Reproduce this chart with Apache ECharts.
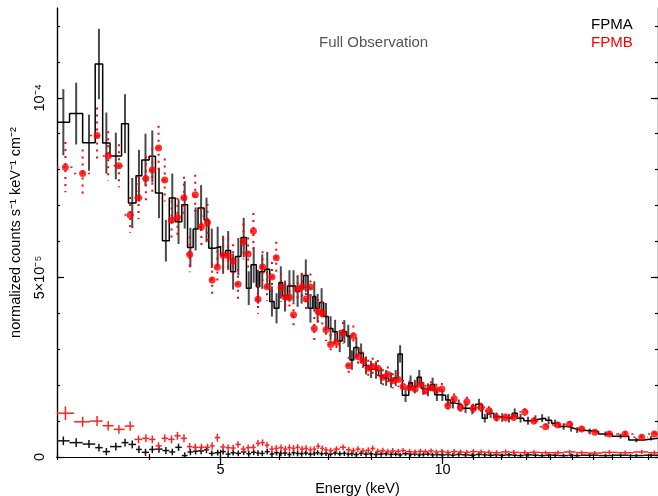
<!DOCTYPE html>
<html>
<head>
<meta charset="utf-8">
<script src="https://cdn.jsdelivr.net/npm/echarts@6/dist/echarts.min.js"></script>
<style>
  html, body { margin: 0; padding: 0; background: #fff; }
  #chart { width: 658px; height: 496px; }
</style>
</head>
<body>
<div id="chart"></div>
<script>
// all fluxes in units of 1e-5 counts s^-1 keV^-1 cm^-2, energies in keV

// FPMA: grouped bins (edges), value, 1-sigma error, background
const fpmaEdges = [3.00,3.12,3.25,3.38,3.46,3.54,3.67,3.75,3.84,3.91,4.00,4.08,4.17,4.26,4.34,4.43,4.51,4.59,4.66,4.75,
  4.82,4.91,5.00,5.08,5.16,5.24,5.33,5.42,5.50,5.59,5.65,5.74,5.83,5.91,6.00,6.07,6.16,6.24,6.32,6.40,
  6.48,6.57,6.67,6.73,6.81,6.90,7.00,7.10,7.20,7.31,7.41,7.49,7.58,7.70,7.81,7.94,8.06,8.19,8.32,8.45,
  8.58,8.70,8.82,9.00,9.10,9.24,9.36,9.48,9.63,9.76,9.89,10.10,10.25,10.41,10.63,10.86,11.09,11.32,11.50,11.74,
  11.92,12.18,12.43,12.63,12.89,13.23,13.50,13.80,14.06,14.37,14.82,15.06,15.39,16.28,16.99,17.89,18.75,19.6];
const fpmaVal = [9.32,9.56,8.75,10.94,8.74,8.38,9.28,7.07,7.83,8.27, 8.37,7.35,6.02,7.21,6.55,7.02,5.83,6.35,6.93,6.60,
  5.81,5.86,5.63,5.75,5.16,5.58,6.11,4.70,5.35,4.74, 5.16,5.23,4.33,4.14,4.86,4.48,4.76,4.76,4.61,4.70,
  5.05,4.14,4.47,4.14,4.30,3.91,3.58,3.49,3.23,3.49, 3.37,2.70,3.05,2.89,2.55,2.44,2.42,2.26,2.20,2.14,
  2.20,2.87,1.72,2.07,1.96,2.22,1.91,1.87,2.02,1.73, 1.72,1.59,1.50,1.45,1.36,1.33,1.47,1.08,1.22,1.12,
  1.10,1.08,1.22,1.08,1.01,1.05,1.08,1.02,0.94,0.85, 0.80,0.75,0.71,0.64,0.58,0.47,0.52];
const fpmaErr = [0.92,0.86,0.78,0.98,0.85,0.65,0.82,0.70,0.72,0.73, 0.72,0.70,0.58,0.68,0.62,0.66,0.55,0.60,0.64,0.62,
  0.55,0.55,0.53,0.54,0.50,0.52,0.55,0.47,0.50,0.47, 0.48,0.48,0.42,0.42,0.45,0.43,0.44,0.44,0.43,0.43,
  0.45,0.40,0.42,0.40,0.40,0.38,0.34,0.33,0.31,0.32, 0.31,0.27,0.28,0.27,0.25,0.24,0.24,0.23,0.22,0.21,
  0.22,0.24,0.19,0.20,0.19,0.20,0.18,0.18,0.19,0.17, 0.16,0.16,0.15,0.15,0.14,0.14,0.15,0.12,0.13,0.12,
  0.12,0.12,0.13,0.12,0.11,0.11,0.11,0.11,0.10,0.09, 0.09,0.08,0.08,0.07,0.07,0.06,0.06];
const fpmaBkg = [0.45,0.40,0.36,0.26,0.15,0.29,0.40,0.35,0.21,0.13, 0.21,0.22,0.18,0.14,0.27,0.04,0.14,0.16,0.17,0.20,
  0.10,0.12,0.15,0.08,0.12,0.10,0.14,0.09,0.13,0.11, 0.10,0.15,0.08,0.12,0.10,0.11,0.07,0.12,0.10,0.09,
  0.11,0.08,0.10,0.12,0.09,0.10,0.08,0.11,0.09,0.10, 0.08,0.09,0.07,0.10,0.08,0.09,0.07,0.08,0.09,0.07,
  0.08,0.06,0.09,0.07,0.08,0.06,0.07,0.08,0.06,0.07, 0.06,0.07,0.05,0.07,0.06,0.05,0.07,0.06,0.05,0.06,
  0.05,0.06,0.05,0.04,0.06,0.05,0.04,0.05,0.05,0.04, 0.05,0.04,0.05,0.04,0.05,0.04,0.05];
const fpmaBkgErr = [0.12,0.12,0.11,0.11,0.10,0.11,0.11,0.11,0.10,0.10, 0.10,0.10,0.10,0.09,0.10,0.09,0.09,0.09,0.09,0.09,
  0.08,0.08,0.08,0.08,0.08,0.08,0.08,0.08,0.08,0.08, 0.08,0.08,0.08,0.08,0.08,0.08,0.08,0.08,0.08,0.08,
  0.07,0.07,0.07,0.07,0.07,0.07,0.07,0.07,0.07,0.07, 0.07,0.07,0.07,0.07,0.07,0.07,0.07,0.07,0.07,0.07,
  0.06,0.06,0.06,0.06,0.06,0.06,0.06,0.06,0.06,0.06, 0.06,0.06,0.06,0.06,0.06,0.06,0.06,0.06,0.06,0.06,
  0.05,0.05,0.05,0.05,0.05,0.05,0.05,0.05,0.05,0.05, 0.05,0.05,0.05,0.05,0.05,0.05,0.05];

// FPMB: bin centres, value, error, background
const fpmbE = [3.08,3.25,3.40,3.52,3.64,3.77,3.87,3.96,4.04,4.12, 4.20,4.29,4.37,4.46,4.54,4.62,4.71,4.80,4.87,4.95,
  5.04,5.12,5.20,5.28,5.37,5.45,5.54,5.62,5.70,5.78, 5.87,5.95,6.04,6.12,6.20,6.28,6.36,6.45,6.53,6.62,
  6.70,6.78,6.87,6.95,7.05,7.18,7.33, 7.46,7.57,7.68,7.80,7.93,8.04,8.17,8.30,8.43,8.56,
  8.71,8.84,9.02,9.18,9.33,9.48,9.65,9.81,9.98,10.17, 10.37,10.58,10.79,11.01,11.28,11.56,11.84,12.18,12.49,12.93,
  13.30,13.80,14.34,14.87,15.44,16.09,16.84,17.69,18.63,19.38];
const fpmbVal = [8.07,7.89,8.95,8.38,8.11,6.74,7.22,7.75,7.99,8.60, 7.71,6.59,6.67,7.22,5.64,7.30,6.41,6.53,4.93,5.28,
  5.62,5.61,5.46,4.81,6.00,5.65,6.29,4.39,5.29,4.74, 5.01,5.55,4.72,4.45,4.45,3.96,4.68,4.73,4.40,4.73,
  3.58,4.05,4.00,3.54,3.13,3.19,3.46, 2.54,3.37,2.79,2.68,2.47,2.52,2.47,2.22,2.30,2.12,
  2.16,1.96,1.93,1.89,2.02,1.84,1.93,1.87,1.89,1.43, 1.62,1.38,1.54,1.35,1.38,1.29,1.10,1.10,1.11,1.25,
  1.00,0.84,0.89,0.91,0.78,0.69,0.64,0.64,0.55,0.64];
const fpmbErr = [0.70,0.67,0.78,0.69,0.60,0.50,0.60,0.62,0.62,0.62, 0.60,0.55,0.55,0.58,0.50,0.56,0.52,0.52,0.45,0.47,
  0.48,0.48,0.46,0.43,0.50,0.46,0.50,0.40,0.44,0.40, 0.42,0.44,0.40,0.38,0.38,0.35,0.38,0.38,0.36,0.38,
  0.32,0.34,0.33,0.31,0.29,0.29,0.30, 0.25,0.29,0.26,0.25,0.24,0.24,0.23,0.22,0.22,0.21,
  0.21,0.19,0.19,0.18,0.19,0.17,0.18,0.17,0.17,0.14, 0.15,0.13,0.14,0.13,0.13,0.12,0.11,0.11,0.11,0.11,
  0.10,0.09,0.09,0.09,0.08,0.07,0.07,0.07,0.06,0.07];
const fpmbBkg = [1.22,0.98,1.00,0.87,0.77,0.86,0.49,0.52,0.49,0.31, 0.52,0.49,0.59,0.52,0.29,0.27,0.27,0.27,0.31,0.54,
  0.28,0.26,0.25,0.35,0.22,0.26,0.27,0.38,0.40,0.33, 0.22,0.24,0.26,0.22,0.26,0.24,0.27,0.22,0.24,0.20,
  0.22,0.30,0.24,0.20,0.18,0.22,0.27, 0.20,0.18,0.22,0.17,0.19,0.24,0.16,0.18,0.15,0.17,
  0.16,0.18,0.15,0.14,0.16,0.15,0.17,0.14,0.15,0.13, 0.15,0.14,0.13,0.15,0.14,0.13,0.12,0.14,0.13,0.12,
  0.13,0.12,0.12,0.14,0.12,0.11,0.13,0.12,0.14,0.12];
const fpmbBkgErr = [0.19,0.14,0.14,0.13,0.12,0.13,0.11,0.11,0.11,0.10, 0.11,0.11,0.11,0.11,0.10,0.10,0.10,0.10,0.10,0.11,
  0.09,0.09,0.09,0.09,0.09,0.09,0.09,0.09,0.09,0.09, 0.09,0.09,0.09,0.09,0.09,0.09,0.09,0.09,0.09,0.09,
  0.08,0.08,0.08,0.08,0.08,0.08,0.08, 0.08,0.08,0.08,0.08,0.08,0.08,0.08,0.08,0.08,0.08,
  0.07,0.07,0.07,0.07,0.07,0.07,0.07,0.07,0.07,0.07, 0.07,0.07,0.07,0.07,0.07,0.07,0.07,0.07,0.07,0.07,
  0.06,0.06,0.06,0.06,0.06,0.06,0.06,0.06,0.06,0.06];

// axes
const xRange = [3, 19.6];
const xMajor = [5, 10];
const xMinor = [3, 4, 5, 6, 7, 8, 9, 10, 11, 12, 13, 14, 15, 16, 17, 18, 19];
const yRange = [0, 12.5];
const yMajor = [0, 5, 10];
const yMajorText = ['0', '5\u00d710\u207b\u2075', '10\u207b\u2074'];
const yMinor = [0, 1, 2, 3, 4, 5, 6, 7, 8, 9, 10, 11, 12];

const FONT = 'Liberation Sans, Arial, Helvetica, sans-serif';

// build the plotted rows from the arrays
const fpmaStep = [];
fpmaVal.forEach((v, i) => {
  fpmaStep.push([fpmaEdges[i], v], [fpmaEdges[i + 1], v]);
});
const fpmaRows = fpmaVal.map((v, i) =>
  [(fpmaEdges[i] + fpmaEdges[i + 1]) / 2, v, fpmaErr[i], fpmaEdges[i], fpmaEdges[i + 1]]);
const fpmaBkgRows = fpmaBkg.map((v, i) =>
  [(fpmaEdges[i] + fpmaEdges[i + 1]) / 2, v, fpmaBkgErr[i], fpmaEdges[i], fpmaEdges[i + 1]]);

// FPMB bin edges halfway between neighbouring centres
const fpmbEdges = fpmbE.map((e, i) => {
  const lo = i > 0 ? (fpmbE[i - 1] + e) / 2 : e - (fpmbE[1] - fpmbE[0]) / 2;
  const hi = i < fpmbE.length - 1 ? (fpmbE[i + 1] + e) / 2 : e + (e - fpmbE[i - 1]) / 2;
  return [lo, hi];
});
const fpmbRows = fpmbVal.map((v, i) => [fpmbE[i], v, fpmbErr[i], fpmbEdges[i][0], fpmbEdges[i][1]]);
const fpmbBkgRows = fpmbBkg.map((v, i) => [fpmbE[i], v, fpmbBkgErr[i], fpmbEdges[i][0], fpmbEdges[i][1]]);

// error bar / cross drawing
function errBars(color, width, dash, horiz, hWidth) {
  return function (params, api) {
    const x = api.value(0), y = api.value(1), e = api.value(2);
    const top = api.coord([x, y + e]);
    const bot = api.coord([x, Math.max(y - e, 0)]);
    const kids = [{
      type: 'line',
      shape: { x1: top[0], y1: top[1], x2: bot[0], y2: bot[1] },
      style: { stroke: color, lineWidth: width, lineDash: dash }
    }];
    if (horiz) {
      const l = api.coord([api.value(3), y]);
      const r = api.coord([api.value(4), y]);
      kids.push({
        type: 'line',
        shape: { x1: l[0], y1: l[1], x2: r[0], y2: r[1] },
        style: { stroke: color, lineWidth: hWidth || width, lineDash: dash }
      });
    }
    return { type: 'group', children: kids };
  };
}

function xAx(pos, ticks, len, labels, extra) {
  return Object.assign({
    type: 'log', logBase: 10, position: pos, min: xRange[0], max: xRange[1],
    axisLine: { show: true, lineStyle: { color: '#000', width: 1.2 } },
    axisTick: { show: true, inside: true, length: len, customValues: ticks, lineStyle: { color: '#000', width: 1.2 } },
    axisLabel: labels ? { show: true, customValues: labels, color: '#000', fontSize: 14.5, fontFamily: FONT, margin: 5 } : { show: false },
    splitLine: { show: false }, minorTick: { show: false }
  }, extra || {});
}

function yAx(pos, ticks, len, labels, extra) {
  return Object.assign({
    type: 'value', position: pos, min: yRange[0], max: yRange[1],
    axisLine: { show: true, lineStyle: { color: '#000', width: 1.2 } },
    axisTick: { show: true, inside: true, length: len, customValues: ticks, lineStyle: { color: '#000', width: 1.2 } },
    axisLabel: labels ? {
      show: true, customValues: labels, rotate: 90, color: '#000', fontSize: 14.5, fontFamily: FONT, margin: 10,
      formatter: v => { const k = yMajor.indexOf(v); return k >= 0 ? yMajorText[k] : ''; }
    } : { show: false },
    splitLine: { show: false }
  }, extra || {});
}

const chart = echarts.init(document.getElementById('chart'));

const option = {
  animation: false,
  backgroundColor: '#fff',
  grid: { left: 57, right: 0, top: 8, bottom: 39, containLabel: false, outerBoundsMode: 'none' },
  title: [
    { text: 'Full Observation', left: 319, top: 35, padding: 0,
      textStyle: { color: '#555', fontSize: 15, fontWeight: 'normal', fontFamily: FONT } },
    { text: 'FPMA', left: 591, top: 17, padding: 0,
      textStyle: { color: '#000', fontSize: 15, fontWeight: 'normal', fontFamily: FONT } },
    { text: 'FPMB', left: 591, top: 35, padding: 0,
      textStyle: { color: '#f00', fontSize: 15, fontWeight: 'normal', fontFamily: FONT } }
  ],
  xAxis: [
    xAx('bottom', xMinor, 3, null),
    xAx('bottom', xMajor, 7, xMajor, {
      name: 'Energy (keV)', nameLocation: 'middle', nameGap: 20,
      nameTextStyle: { color: '#000', fontSize: 14.5, fontFamily: FONT }
    }),
    xAx('top', xMinor, 3, null),
    xAx('top', xMajor, 7, null)
  ],
  yAxis: [
    yAx('left', yMinor, 3, null),
    yAx('left', yMajor, 7, yMajor, {
      name: 'normalized counts s\u207b\u00b9 keV\u207b\u00b9 cm\u207b\u00b2', nameLocation: 'middle', nameGap: 34,
      nameTextStyle: { color: '#000', fontSize: 14.5, fontFamily: FONT }
    }),
    yAx('right', yMinor, 3, null),
    yAx('right', yMajor, 7, null)
  ],
  series: [
    {
      name: 'FPMA bkg', type: 'custom', xAxisIndex: 0, yAxisIndex: 0, clip: true,
      renderItem: errBars('#111', 1.5, null, true), data: fpmaBkgRows, z: 2
    },
    {
      name: 'FPMB bkg', type: 'custom', xAxisIndex: 0, yAxisIndex: 0, clip: true,
      renderItem: errBars('#f22', 1.5, null, true), data: fpmbBkgRows, z: 3
    },
    {
      name: 'FPMA err', type: 'custom', xAxisIndex: 0, yAxisIndex: 0, clip: true,
      renderItem: errBars('#4a4a4a', 2, null, false), data: fpmaRows, z: 4
    },
    {
      name: 'FPMA', type: 'line', xAxisIndex: 0, yAxisIndex: 0, data: fpmaStep,
      showSymbol: false, symbol: 'none', clip: true,
      lineStyle: { color: '#000', width: 1.5 }, z: 5
    },
    {
      name: 'FPMB err', type: 'custom', xAxisIndex: 0, yAxisIndex: 0, clip: true,
      renderItem: errBars('#f00', 2, [2, 5], true, 1.5), data: fpmbRows, z: 6
    },
    {
      name: 'FPMB', type: 'scatter', xAxisIndex: 0, yAxisIndex: 0,
      data: fpmbRows.map(r => [r[0], r[1]]),
      symbol: 'circle', symbolSize: 7, itemStyle: { color: '#f00' }, z: 7
    }
  ]
};

chart.setOption(option);
</script>
</body>
</html>
